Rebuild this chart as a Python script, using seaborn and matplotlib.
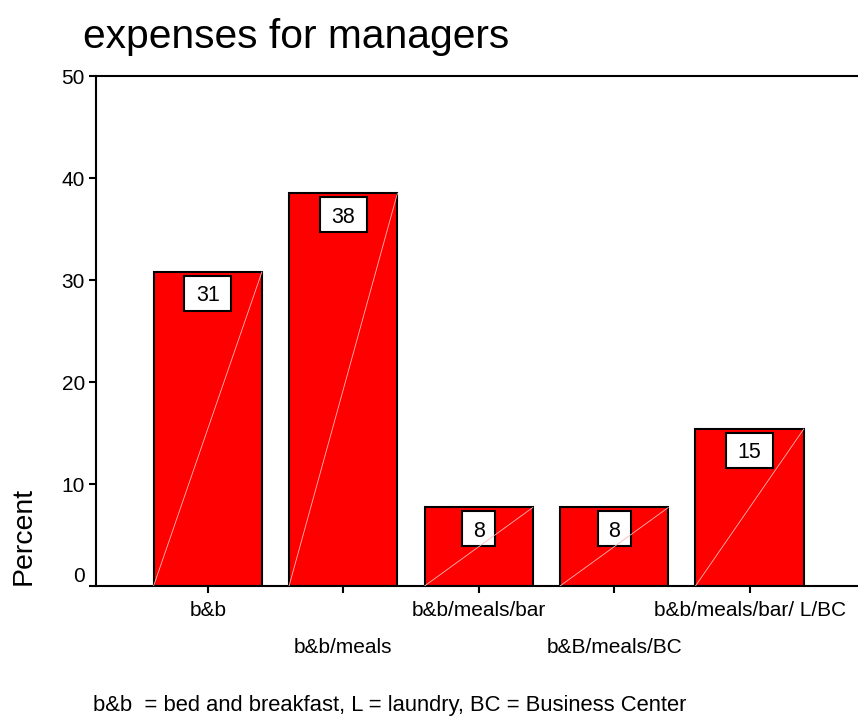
import matplotlib
matplotlib.use("Agg")
import matplotlib.pyplot as plt
from matplotlib.patches import Rectangle
from matplotlib.transforms import ScaledTranslation
import seaborn as sns
import pandas as pd

# Share of managers by expense package (percent)
categories = ["b&b", "b&b/meals", "b&b/meals/bar", "b&B/meals/BC", "b&b/meals/bar/ L/BC"]
percents = [30.8, 38.5, 7.7, 7.7, 15.4]
y_ticks = [0, 10, 20, 30, 40, 50]
title_text = "expenses for managers"
y_title = "Percent"
footnote = "b&b  = bed and breakfast, L = laundry, BC = Business Center"

df = pd.DataFrame({"category": categories, "percent": percents})

sns.set_style("ticks")
plt.rcParams["font.family"] = ["Liberation Sans", "DejaVu Sans"]
plt.rcParams.update({"text.color": "black", "axes.labelcolor": "black",
                     "xtick.color": "black", "ytick.color": "black"})

DPI = 100
fig = plt.figure(figsize=(8.58, 7.17), dpi=DPI)
ax = fig.add_axes([96 / 858, 1 - 586 / 717, 762 / 858, 510 / 717])

sns.barplot(data=df, x="category", y="percent", color="#ff0000", saturation=1,
            edgecolor="black", linewidth=1.5, width=0.8, ax=ax, zorder=2)

ax.set_ylim(0, 50)
ax.set_xlim(-0.825, len(categories) - 0.2)
ax.set_yticks(y_ticks)
ax.set_yticklabels([str(t) for t in y_ticks], fontsize=15)
ax.get_yticklabels()[0].set_verticalalignment("bottom")
ax.tick_params(axis="y", length=5, width=1.5, pad=3)
ax.tick_params(axis="x", length=5, width=1.5, pad=6, labelsize=15)
ax.set_xlabel("")

# stagger the category names on two rows
for i, lab in enumerate(ax.get_xticklabels()):
    if i % 2 == 1:
        lab.set_transform(lab.get_transform() +
                          ScaledTranslation(0, -0.37, fig.dpi_scale_trans))

for side in ["left", "bottom", "top"]:
    ax.spines[side].set_visible(True)
    ax.spines[side].set_linewidth(1.5)
    ax.spines[side].set_color("black")
ax.spines["right"].set_visible(False)

# boxed value label under each bar top, faint diagonal across each bar
box_h = 35 / DPI
box_gap = 4 / DPI
for patch, val in zip(ax.patches, percents):
    x0, w, h = patch.get_x(), patch.get_width(), patch.get_height()
    cx = x0 + w / 2
    txt = f"{round(val):d}"
    box_w = (19 + 14 * len(txt)) / DPI
    anchor = fig.dpi_scale_trans + ScaledTranslation(cx, h, ax.transData)
    ax.add_patch(Rectangle((-box_w / 2, -box_gap - box_h), box_w, box_h,
                           transform=anchor, fc="white", ec="black", lw=1.5,
                           zorder=4, clip_on=False))
    ax.text(0, -box_gap - box_h / 2, txt, transform=anchor, ha="center",
            va="center_baseline", fontsize=15.5, zorder=5)
    ax.plot([x0, x0 + w], [0, h], color="#ffb8b8", lw=0.6, zorder=6)

ax.set_ylabel(y_title, fontsize=20.5)
ax.yaxis.set_label_coords(-0.078, 0.098)

fig.text(83 / 858, 1 - 48 / 717, title_text, fontsize=29.3, ha="left", va="baseline")
fig.text(93 / 858, 1 - 711 / 717, footnote, fontsize=15.8, ha="left", va="baseline")

fig.savefig("out.png", dpi=DPI)
